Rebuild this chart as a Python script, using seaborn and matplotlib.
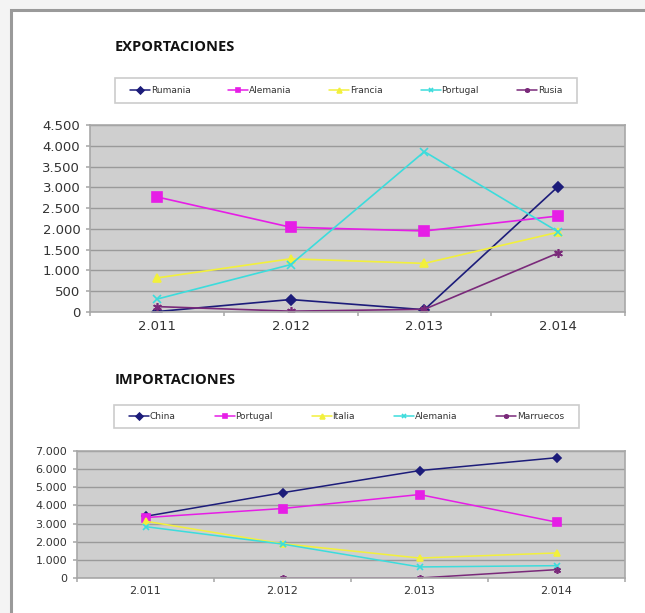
import matplotlib
matplotlib.use("Agg")
import matplotlib.pyplot as plt
import matplotlib.patches as mpatches
from matplotlib.ticker import FuncFormatter, FixedLocator
import numpy as np
import pandas as pd
import seaborn as sns

years = ["2.011", "2.012", "2.013", "2.014"]

exp_series = ["Rumania", "Alemania", "Francia", "Portugal", "Rusia"]
exp_rumania = [10, 300, 55, 3020]
exp_alemania = [2770, 2040, 1950, 2310]
exp_francia = [820, 1280, 1170, 1920]
exp_portugal = [310, 1140, 3860, 1930]
exp_rusia = [130, 20, 65, 1420]

imp_series = ["China", "Portugal", "Italia", "Alemania", "Marruecos"]
imp_china = [3400, 4700, 5920, 6630]
imp_portugal = [3330, 3830, 4600, 3080]
imp_italia = [3130, 1890, 1100, 1380]
imp_alemania = [2830, 1870, 610, 680]
imp_marruecos = [np.nan, 0, 0, 460]

colors = ["#1c1c7a", "#e61ee6", "#f2f03c", "#3cdcdc", "#7a2a7a"]
markers = ["D", "s", "^", "x", (6, 2, 0)]
msizes_scale = [0.75, 1.0, 0.8, 0.85, 0.9]

sns.set_theme(style="white")
plt.rcParams["font.family"] = ["DejaVu Sans"]

fig = plt.figure(figsize=(6.45, 6.13), dpi=100)
fig.patch.set_facecolor("white")
W, H = 645, 613

# outer light background + border
fig.add_artist(mpatches.Rectangle((0, 0), 1, 1, transform=fig.transFigure,
                                  facecolor="#f4f4f4", edgecolor="none", zorder=-10))
fig.add_artist(mpatches.Rectangle((11 / W, -0.01), 1.0, 1 - 10 / H + 0.01, transform=fig.transFigure,
                                  facecolor="white", edgecolor="#9a9a9a", linewidth=2.2, zorder=-9))


def fmt(v, pos):
    return f"{int(round(v)):,}".replace(",", ".")


def make_panel(rect, series, values, ymax, ystep, title, title_y, box, tick_fs, leg_fs, colsp, msize, lw):
    ax = fig.add_axes(rect)
    handles = []
    for name, vals, c, m, sc in zip(series, values, colors, markers, msizes_scale):
        df = pd.DataFrame({"pos": np.arange(len(years)), "valor": vals}).dropna()
        sns.lineplot(data=df, x="pos", y="valor", color=c, marker=m, markersize=msize * sc,
                     markeredgecolor=c, markerfacecolor=c, markeredgewidth=1.2,
                     linewidth=lw, ax=ax, label=name)
        handles.append(ax.lines[-1])
    ax.set_facecolor("#cfcfcf")
    ax.set_xlim(-0.5, 3.5)
    ax.set_ylim(0, ymax)
    ax.set_yticks(np.arange(0, ymax + 1, ystep))
    ax.yaxis.set_major_formatter(FuncFormatter(fmt))
    ax.grid(axis="y", color="#9a9a9a", linewidth=1.0)
    ax.set_axisbelow(True)
    ax.xaxis.set_major_locator(FixedLocator([-0.5, 0.5, 1.5, 2.5, 3.5]))
    ax.xaxis.set_major_formatter(FuncFormatter(lambda v, p: ""))
    ax.xaxis.set_minor_locator(FixedLocator([0, 1, 2, 3]))
    ax.xaxis.set_minor_formatter(FuncFormatter(lambda v, p: years[int(round(v))]))
    ax.tick_params(axis="x", which="major", length=3, color="#b0b0b0", bottom=True)
    ax.tick_params(axis="x", which="minor", length=0, labelsize=tick_fs, colors="#333333", pad=6)
    ax.tick_params(axis="y", length=3, color="#b0b0b0", left=True, labelsize=tick_fs, labelcolor="#333333", pad=4)
    ax.set_xlabel("")
    ax.set_ylabel("")
    for s in ax.spines.values():
        s.set_color("#a8a8a8")
        s.set_linewidth(1.2)
    if ax.legend_ is not None:
        ax.legend_.remove()
    # legend frame
    bx, by, bw, bh = box
    fig.add_artist(mpatches.Rectangle((bx / W, 1 - (by + bh) / H), bw / W, bh / H,
                                      transform=fig.transFigure, facecolor="white",
                                      edgecolor="#cccccc", linewidth=1.2, zorder=1))
    leg = fig.legend(handles, series, loc="center",
                     bbox_to_anchor=((bx + bw / 2) / W, 1 - (by + bh / 2) / H),
                     bbox_transform=fig.transFigure, ncol=5,
                     fontsize=leg_fs, frameon=False, borderaxespad=0,
                     handlelength=2.2, handletextpad=0.1, borderpad=0.2, columnspacing=colsp)
    leg.set_zorder(2)
    for h in leg.legend_handles:
        h.set_markersize(3.5)
        h.set_linewidth(1.1)
    for t in leg.get_texts():
        t.set_color("#333333")
    fig.text(115 / W, 1 - title_y / H, title, fontsize=10.5, fontweight="bold",
             family=["Open Sans", "DejaVu Sans"], color="#111111", va="center", ha="left")
    return ax


make_panel([90 / W, 1 - 312 / H, 535 / W, 187 / H], exp_series,
           [exp_rumania, exp_alemania, exp_francia, exp_portugal, exp_rusia],
           4500, 500, "EXPORTACIONES", 47,
           (115, 78, 462, 25), 9.5, 6.5, 4.2, 7, 1.2)

make_panel([77 / W, 1 - 578 / H, 548 / W, 127 / H], imp_series,
           [imp_china, imp_portugal, imp_italia, imp_alemania, imp_marruecos],
           7000, 1000, "IMPORTACIONES", 380,
           (114, 405, 465, 23), 8, 6.5, 4.3, 5.5, 1.1)

fig.savefig("out.png", dpi=100)
